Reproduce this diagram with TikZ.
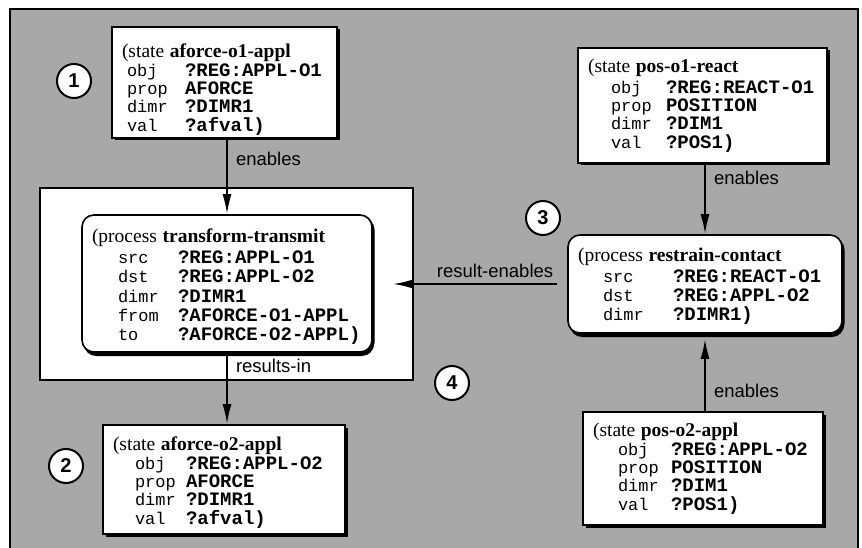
\documentclass[tikz,border=0pt]{standalone}
\usepackage{fontspec}
\setmainfont{Liberation Serif}
\setsansfont{Liberation Sans}
\setmonofont{Liberation Mono}
\usetikzlibrary{arrows.meta,shadows}

\newlength{\kvindent}
\newlength{\kvkeyw}
\newcommand{\hdfont}{\rmfamily\fontsize{19.5pt}{\baselineskip}\selectfont}
\newcommand{\keyfont}{\ttfamily\mdseries\fontsize{17pt}{\baselineskip}\selectfont}
\newcommand{\valfont}{\ttfamily\bfseries\fontsize{19pt}{\baselineskip}\selectfont}
\newcommand{\hd}[3][0pt]{\rule{0pt}{\dimexpr14pt+#1\relax}{\hdfont(#2~\textbf{#3}}}
\newcommand{\kv}[2]{\hspace*{\kvindent}\makebox[\kvkeyw][l]{\keyfont #1}{\valfont #2}}
\newcommand{\tightlines}{\setlength{\lineskiplimit}{-20pt}}

\tikzset{
  statebox/.style={draw, line width=1.6pt, fill=white, align=left,
    inner xsep=10pt, inner ysep=0pt,
    font=\fontsize{17pt}{18.3pt}\selectfont,
    execute at begin node=\tightlines,
    drop shadow={shadow xshift=2.5pt, shadow yshift=-2.5pt, fill=black, opacity=1}},
  procbox/.style={statebox, rounded corners=12pt,
    font=\fontsize{17pt}{19.2pt}\selectfont,
    drop shadow={shadow xshift=2pt, shadow yshift=-4pt, fill=black, opacity=1}},
  groupbox/.style={draw, line width=1.5pt, fill=white},
  numcircle/.style={circle, draw, line width=2pt, fill=white, minimum size=34pt,
    inner sep=0pt, font=\sffamily\bfseries\fontsize{20pt}{20pt}\selectfont},
  flowarrow/.style={-{Latex[length=20pt,width=9pt]}, line width=2pt},
  flowlabel/.style={font=\sffamily\fontsize{18.5pt}{18.5pt}\selectfont, inner sep=2pt}
}

\begin{document}
\begin{tikzpicture}[x=1pt, y=-1pt]
  \useasboundingbox (0,0) rectangle (862,548);
  % textured panel
  \fill[black!34] (10,9) rectangle (858,548);
  \draw[line width=2pt] (10,548) -- (10,9) -- (858,9) -- (858,548);

  % left column
  \node[groupbox, minimum width=373pt, minimum height=192pt] (grp) at (226.5,284) {};
  \node[statebox, minimum width=225pt, minimum height=111pt, text width=205pt] (s1) at (224.5,82.5) {%
    \setlength{\kvindent}{5pt}\setlength{\kvkeyw}{58pt}%
    \hd[14pt]{state}{aforce-o1-appl}\\
    \kv{obj}{?REG:APPL-O1}\\
    \kv{prop}{AFORCE}\\
    \kv{dimr}{?DIMR1}\\
    \kv{val}{?afval)}};
  \node[procbox, minimum width=290pt, minimum height=137pt, text width=270pt] (p1) at (227,283.5) {%
    \setlength{\kvindent}{26pt}\setlength{\kvkeyw}{60pt}%
    \hd[6pt]{process}{transform-transmit}\\[2pt]
    \kv{src}{?REG:APPL-O1}\\
    \kv{dst}{?REG:APPL-O2}\\
    \kv{dimr}{?DIMR1}\\
    \kv{from}{?AFORCE-O1-APPL}\\
    \kv{to}{?AFORCE-O2-APPL)}};
  \node[statebox, minimum width=242pt, minimum height=109pt, text width=222pt] (s2) at (224,479.5) {%
    \setlength{\kvindent}{22pt}\setlength{\kvkeyw}{51pt}%
    \hd[6pt]{state}{aforce-o2-appl}\\
    \kv{obj}{?REG:APPL-O2}\\
    \kv{prop}{AFORCE}\\
    \kv{dimr}{?DIMR1}\\
    \kv{val}{?afval)}};

  % right column
  \node[statebox, minimum width=249pt, minimum height=115pt, text width=229pt] (s3) at (702.5,105.5) {%
    \setlength{\kvindent}{23pt}\setlength{\kvkeyw}{55pt}%
    \hd{state}{pos-o1-react}\\[2pt]
    \kv{obj}{?REG:REACT-O1}\\
    \kv{prop}{POSITION}\\
    \kv{dimr}{?DIM1}\\
    \kv{val}{?POS1)}};
  \node[procbox, minimum width=274pt, minimum height=98pt, text width=254pt] (p2) at (705,284) {%
    \setlength{\kvindent}{25pt}\setlength{\kvkeyw}{70pt}%
    \hd[4pt]{process}{restrain-contact}\\[2pt]
    \kv{src}{?REG:REACT-O1}\\
    \kv{dst}{?REG:APPL-O2}\\
    \kv{dimr}{?DIMR1)}};
  \node[statebox, minimum width=240pt, minimum height=113pt, text width=220pt] (s4) at (703,468.5) {%
    \setlength{\kvindent}{25pt}\setlength{\kvkeyw}{53pt}%
    \hd{state}{pos-o2-appl}\\
    \kv{obj}{?REG:APPL-O2}\\
    \kv{prop}{POSITION}\\
    \kv{dimr}{?DIM1}\\
    \kv{val}{?POS1)}};

  % step numbers
  \node[numcircle] (n1) at (74,81) {1};
  \node[numcircle] (n2) at (66,466) {2};
  \node[numcircle] (n3) at (543,218) {3};
  \node[numcircle] (n4) at (452,383) {4};

  % links
  \draw[flowarrow] (p1.north |- s1.south) -- node[flowlabel, pos=0.26, anchor=west, xshift=6pt] {enables} (p1.north);
  \draw[flowarrow] (p1.south) -- node[flowlabel, pos=0.18, anchor=west, xshift=6pt] {results-in} (p1.south |- s2.north);
  \draw[flowarrow] (p2.north |- s3.south) -- node[flowlabel, pos=0.2, anchor=west, xshift=6pt] {enables} (p2.north);
  \draw[flowarrow, shorten >=5pt] (p2.south |- s4.north) -- node[flowlabel, pos=0.26, anchor=west, xshift=6pt] {enables} (p2.south);
  \draw[flowarrow, shorten <=10pt, shorten >=-21pt] (p2.west) -- node[flowlabel, above, pos=0.47, inner sep=5pt] {result-enables} (p2.west -| grp.east);
\end{tikzpicture}
\end{document}
